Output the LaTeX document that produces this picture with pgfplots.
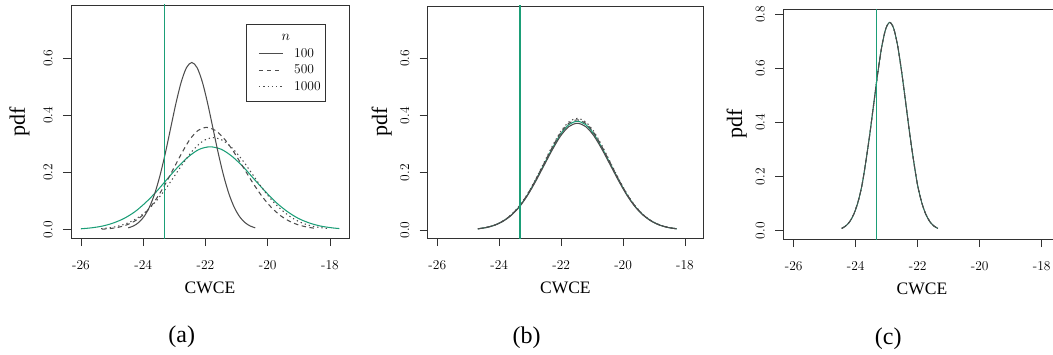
\documentclass[border=0pt]{standalone}
\usepackage{pgfplots}
\pgfplotsset{compat=1.18}
\usepackage{fontspec}
\newfontfamily\timesfont{Liberation Serif}
\definecolor{cgray}{RGB}{77,77,77}
\definecolor{cgreen}{RGB}{27,158,119}
\definecolor{cbox}{RGB}{50,50,50}
\newcommand{\tickfont}{\fontsize{13.5}{15}\selectfont}
\newcommand{\labfont}{\timesfont\fontsize{17.5}{19}\selectfont}
\newcommand{\ylabfont}{\timesfont\fontsize{22}{24}\selectfont}

% ---------- data ----------
\pgfplotstableread{
x y
-24.48 0.0065
-24.31 0.0133
-24.14 0.0257
-23.97 0.0466
-23.80 0.0792
-23.63 0.1265
-23.46 0.1900
-23.29 0.2678
-23.12 0.3548
-22.95 0.4416
-22.78 0.5163
-22.61 0.5670
-22.44 0.5850
-22.27 0.5670
-22.10 0.5163
-21.93 0.4416
-21.76 0.3548
-21.59 0.2678
-21.42 0.1900
-21.25 0.1265
-21.08 0.0792
-20.91 0.0466
-20.74 0.0257
-20.57 0.0133
-20.40 0.0065
}\aHundred
\pgfplotstableread{
x y
-25.33 0.0018
-25.07 0.0040
-24.81 0.0082
-24.56 0.0157
-24.30 0.0285
-24.04 0.0484
-23.78 0.0774
-23.53 0.1162
-23.27 0.1639
-23.01 0.2171
-22.75 0.2702
-22.50 0.3159
-22.24 0.3470
-21.98 0.3580
-21.68 0.3470
-21.38 0.3159
-21.08 0.2702
-20.78 0.2171
-20.48 0.1639
-20.18 0.1162
-19.88 0.0774
-19.58 0.0484
-19.28 0.0285
-18.98 0.0157
-18.68 0.0082
-18.45 0.0045
}\aFiveHundred
\pgfplotstableread{
x y
-25.35 0.0036
-25.05 0.0073
-24.75 0.0141
-24.45 0.0256
-24.15 0.0436
-23.85 0.0696
-23.55 0.1046
-23.25 0.1474
-22.95 0.1953
-22.65 0.2430
-22.35 0.2842
-22.05 0.3121
-21.75 0.3220
-21.44 0.3121
-21.13 0.2842
-20.81 0.2430
-20.50 0.1953
-20.19 0.1474
-19.88 0.1046
-19.56 0.0696
-19.25 0.0436
-18.94 0.0256
-18.63 0.0141
-18.31 0.0073
-18.05 0.0040
}\aThousand
\pgfplotstableread{
x y
-26.00 0.0032
-25.66 0.0066
-25.31 0.0127
-24.97 0.0231
-24.62 0.0392
-24.27 0.0627
-23.93 0.0942
-23.58 0.1328
-23.24 0.1759
-22.89 0.2189
-22.54 0.2559
-22.20 0.2811
-21.85 0.2900
-21.49 0.2811
-21.14 0.2559
-20.78 0.2189
-20.43 0.1759
-20.07 0.1328
-19.72 0.0942
-19.36 0.0627
-19.01 0.0392
-18.65 0.0231
-18.30 0.0127
-17.94 0.0066
-17.70 0.0040
}\aTrue
\pgfplotstableread{
x y1 y2 y3 y4
-24.69 0.0041 0.0043 0.0043 0.0042
-24.42 0.0085 0.0088 0.0089 0.0087
-24.155 0.0164 0.0169 0.0171 0.0167
-23.89 0.0297 0.0306 0.0310 0.0302
-23.62 0.0505 0.0521 0.0528 0.0514
-23.35 0.0807 0.0833 0.0844 0.0822
-23.085 0.1211 0.1250 0.1266 0.1234
-22.82 0.1708 0.1763 0.1785 0.1740
-22.55 0.2262 0.2335 0.2365 0.2305
-22.28 0.2815 0.2906 0.2944 0.2868
-22.015 0.3292 0.3398 0.3442 0.3354
-21.75 0.3615 0.3731 0.3780 0.3683
-21.48 0.3730 0.3850 0.3900 0.3800
-21.21 0.3615 0.3731 0.3780 0.3683
-20.945 0.3292 0.3398 0.3442 0.3354
-20.68 0.2815 0.2906 0.2944 0.2868
-20.41 0.2262 0.2335 0.2365 0.2305
-20.14 0.1708 0.1763 0.1785 0.1740
-19.875 0.1211 0.1250 0.1266 0.1234
-19.61 0.0807 0.0833 0.0844 0.0822
-19.34 0.0505 0.0521 0.0528 0.0514
-19.07 0.0297 0.0306 0.0310 0.0302
-18.805 0.0164 0.0169 0.0171 0.0167
-18.54 0.0085 0.0088 0.0089 0.0087
-18.27 0.0041 0.0043 0.0043 0.0042
}\bAll
\pgfplotstableread{
x y
-24.45 0.0085
-24.32 0.0176
-24.19 0.0338
-24.06 0.0613
-23.93 0.1042
-23.80 0.1666
-23.68 0.2500
-23.55 0.3525
-23.42 0.4670
-23.29 0.5812
-23.16 0.6795
-23.03 0.7463
-22.90 0.7700
-22.77 0.7463
-22.64 0.6795
-22.51 0.5812
-22.38 0.4670
-22.25 0.3525
-22.12 0.2500
-22.00 0.1666
-21.87 0.1042
-21.74 0.0613
-21.61 0.0338
-21.48 0.0176
-21.35 0.0085
}\cAll

\pgfplotsset{
  rpanel/.style={
    scale only axis, anchor=south west,
    axis line style={line width=0.9pt, draw=cbox},
    tick align=outside, major tick length=8pt,
    xtick pos=left, ytick pos=left,
    tick style={line width=0.8pt, draw=cbox},
    xtick={-26,-24,-22,-20,-18},
    xticklabels={-26,-24,-22,-20,-18},
    xticklabel style={font=\tickfont, anchor=center, yshift=-19pt},
    yticklabel style={font=\tickfont, anchor=center, xshift=-15pt, rotate=90},
    xlabel={\labfont CWCE},
    ylabel={\ylabfont pdf},
    xlabel style={at={(axis description cs:0.5,-0.215)}, anchor=center},
    every axis plot/.append style={line width=1pt},
    clip=true,
  },
  grayc/.style={color=cgray, line width=1.05pt},
  greenc/.style={color=cgreen, line width=1.05pt},
  vline/.style={color=cgreen, line width=1.15pt},
  dashedc/.style={color=cgray, line width=1.05pt, dash pattern=on 4.5pt off 3.5pt},
  dottedc/.style={color=cgray, line width=1.05pt, dash pattern=on 1.3pt off 3pt},
}

\begin{document}
\begin{tikzpicture}
\clip (0,0) rectangle (1053pt,354pt);
\useasboundingbox (0,0) rectangle (1053pt,354pt);

% ---------------- (a) ----------------
\begin{axis}[rpanel,
  at={(71pt,116pt)}, width=278pt, height=233pt,
  xmin=-26.32, xmax=-17.39, ymin=-0.029, ymax=0.786,
  ytick={0,0.2,0.4,0.6}, yticklabels={0.0,0.2,0.4,0.6},
  ylabel style={at={(axis description cs:-0.185,0.5)}, anchor=center},
  legend style={at={(0.6284,0.9185)}, anchor=north west,
    draw=cbox, line width=0.9pt, font=\tickfont,
    inner xsep=4.6pt, inner ysep=9.6pt, row sep=6.3pt, column sep=10.7pt,
    nodes={inner sep=0pt}},
  legend cell align=left,
  legend image code/.code={\path (0pt,0pt); \draw[#1] (7.7pt,0pt) -- (31.7pt,0pt);},
]
\addplot[greenc, smooth, forget plot] table {\aTrue};
\addplot[grayc, smooth, forget plot] table {\aHundred};
\addplot[dashedc, smooth, forget plot] table {\aFiveHundred};
\addplot[dottedc, smooth, forget plot] table {\aThousand};
\addplot[vline, forget plot] coordinates {(-23.33,-0.1) (-23.33,1)};
\addlegendimage{empty legend}
\addlegendentry{\rlap{\hspace*{-13pt}$n$}\rule[-5.4pt]{0pt}{5.4pt}}
\addlegendimage{grayc}
\addlegendentry{100}
\addlegendimage{dashedc}
\addlegendentry{500}
\addlegendimage{dottedc}
\addlegendentry{1000}
\end{axis}

% ---------------- (b) ----------------
\begin{axis}[rpanel,
  at={(427.7pt,116pt)}, width=275.3pt, height=232pt,
  xmin=-26.31, xmax=-17.42, ymin=-0.028, ymax=0.783,
  ytick={0,0.2,0.4,0.6}, yticklabels={0.0,0.2,0.4,0.6},
  ylabel style={at={(axis description cs:-0.167,0.5)}, anchor=center},
]
\addplot[greenc, smooth] table[x=x, y=y4] {\bAll};
\addplot[grayc, smooth] table[x=x, y=y1] {\bAll};
\addplot[dashedc, smooth] table[x=x, y=y2] {\bAll};
\addplot[dottedc, smooth] table[x=x, y=y3] {\bAll};
\addplot[vline] coordinates {(-23.33,-0.1) (-23.33,1)};
\end{axis}

% ---------------- (c) ----------------
\begin{axis}[rpanel,
  at={(783.3pt,115pt)}, width=277.3pt, height=229.7pt,
  xmin=-26.335, xmax=-17.39, ymin=-0.0307, ymax=0.8185,
  ytick={0,0.2,0.4,0.6,0.8}, yticklabels={0.0,0.2,0.4,0.6,0.8},
  ylabel style={at={(axis description cs:-0.168,0.5)}, anchor=center},
]
\addplot[greenc, smooth] table {\cAll};
\addplot[grayc, smooth, line width=0.7pt] table {\cAll};
\addplot[dashedc, smooth] table {\cAll};
\addplot[dottedc, smooth] table {\cAll};
\addplot[vline] coordinates {(-23.33,-0.1) (-23.33,1)};
\end{axis}

% sub-captions
\node[font=\timesfont\fontsize{24}{26}\selectfont] at (181.7pt,17pt) {(a)};
\node[font=\timesfont\fontsize{24}{26}\selectfont] at (526.7pt,16pt) {(b)};
\node[font=\timesfont\fontsize{24}{26}\selectfont] at (888.3pt,15pt) {(c)};
\end{tikzpicture}
\end{document}
